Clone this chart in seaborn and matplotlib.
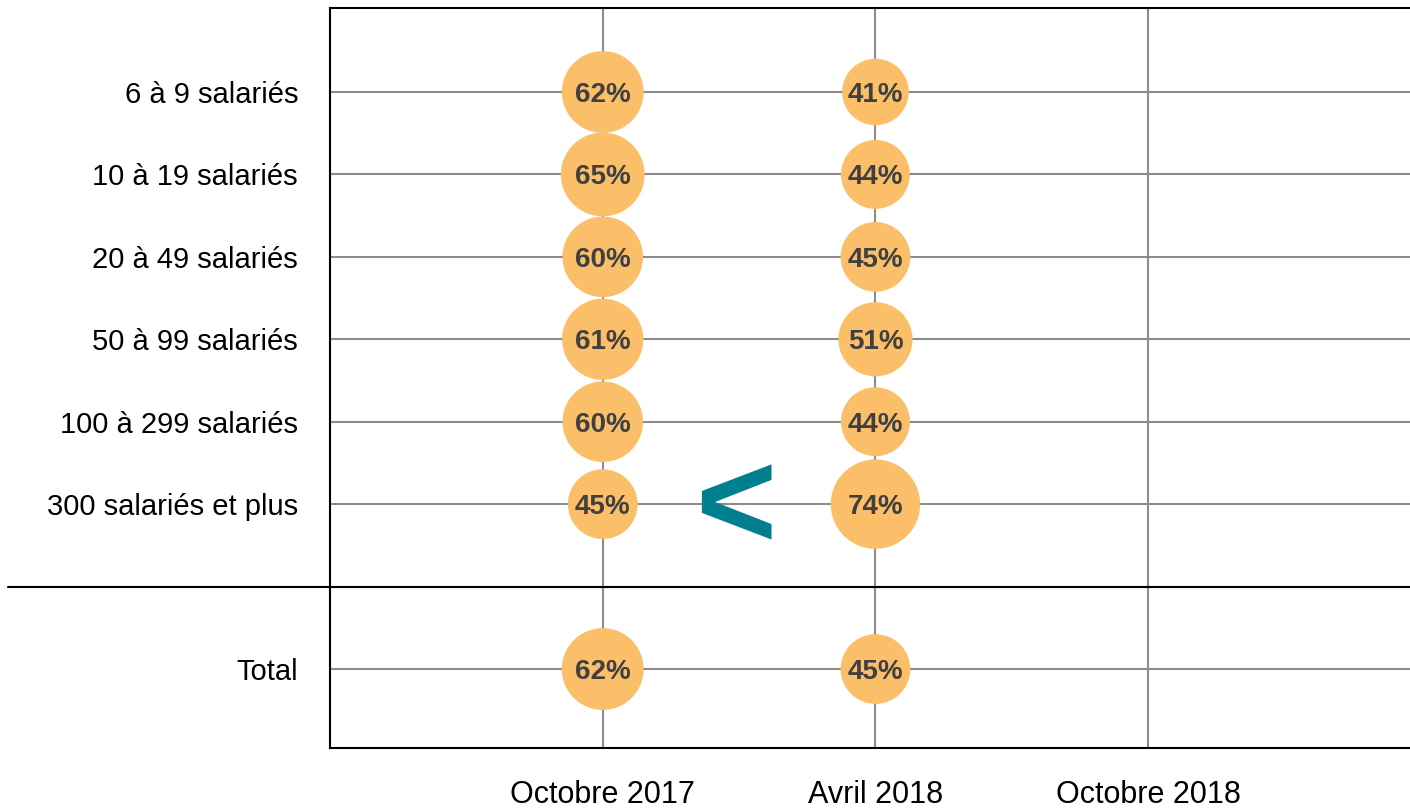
import matplotlib
matplotlib.use("Agg")
import matplotlib.pyplot as plt
import matplotlib.transforms as mtransforms
import seaborn as sns
import pandas as pd

# ---- data ----
rows = ["6 à 9 salariés", "10 à 19 salariés", "20 à 49 salariés", "50 à 99 salariés",
        "100 à 299 salariés", "300 salariés et plus", "", "Total"]
periods = ["Octobre 2017", "Avril 2018", "Octobre 2018"]
oct_2017 = [62, 65, 60, 61, 60, 45, None, 62]
avr_2018 = [41, 44, 45, 51, 44, 74, None, 45]
oct_2018 = [None] * 8

records = []
for pi, series in enumerate([oct_2017, avr_2018, oct_2018]):
    for ri, v in enumerate(series):
        if v is not None:
            records.append({"period": pi, "row": ri, "value": v})
df = pd.DataFrame(records)

sns.set_style("white")
plt.rcParams["font.family"] = ["Liberation Sans Narrow", "Liberation Sans", "DejaVu Sans"]

W, H = 1410, 808
fig = plt.figure(figsize=(W / 100, H / 100), dpi=100)
ax = fig.add_axes([330 / W, (H - 748) / H, (1410 - 330) / W, (748 - 8) / H])

bubble = "#FBBF6A"
vmin, vmax = df["value"].min(), df["value"].max()
k = 56.0
sns.scatterplot(data=df, x="period", y="row", size="value",
                sizes=(vmin * k, vmax * k), size_norm=(vmin, vmax),
                color=bubble, linewidth=0, legend=False, ax=ax, zorder=3)

for _, r in df.iterrows():
    ax.text(r["period"], r["row"], f"{int(r['value'])}%", ha="center",
            va="center_baseline", fontsize=20, fontweight="bold", color="#404040", zorder=4)

# comparison sign
ax.text(0.487, 4.92, "<", ha="center", va="center_baseline", fontsize=100,
        fontweight="bold", color="#007F8F", zorder=4,
        family=["Liberation Sans", "DejaVu Sans"])

ax.set_xlim(-1, 2.96)
ax.set_ylim(7.958, -1.019)
ax.set_xticks(range(len(periods)))
ax.set_xticklabels(periods, fontsize=22, color="black")
ax.set_yticks(range(len(rows)))
ax.set_yticklabels(rows, fontsize=21, color="black")
ax.tick_params(axis="both", length=0)
ax.tick_params(axis="y", pad=23)
ax.tick_params(axis="x", pad=23)
ax.set_xlabel("")
ax.set_ylabel("")

ax.grid(True, color="#8C8C8C", linewidth=1.5)
ax.set_axisbelow(True)
for s in ["left", "top", "bottom"]:
    ax.spines[s].set_color("black")
    ax.spines[s].set_linewidth(1.5)
ax.spines["right"].set_visible(False)

# separator above the Total row
trans = mtransforms.blended_transform_factory(fig.transFigure, ax.transData)
ax.add_line(plt.Line2D([8 / W, 1.0], [6, 6], transform=trans, color="black",
                       linewidth=1.5, clip_on=False, zorder=5))

fig.savefig("out.png", dpi=100)
